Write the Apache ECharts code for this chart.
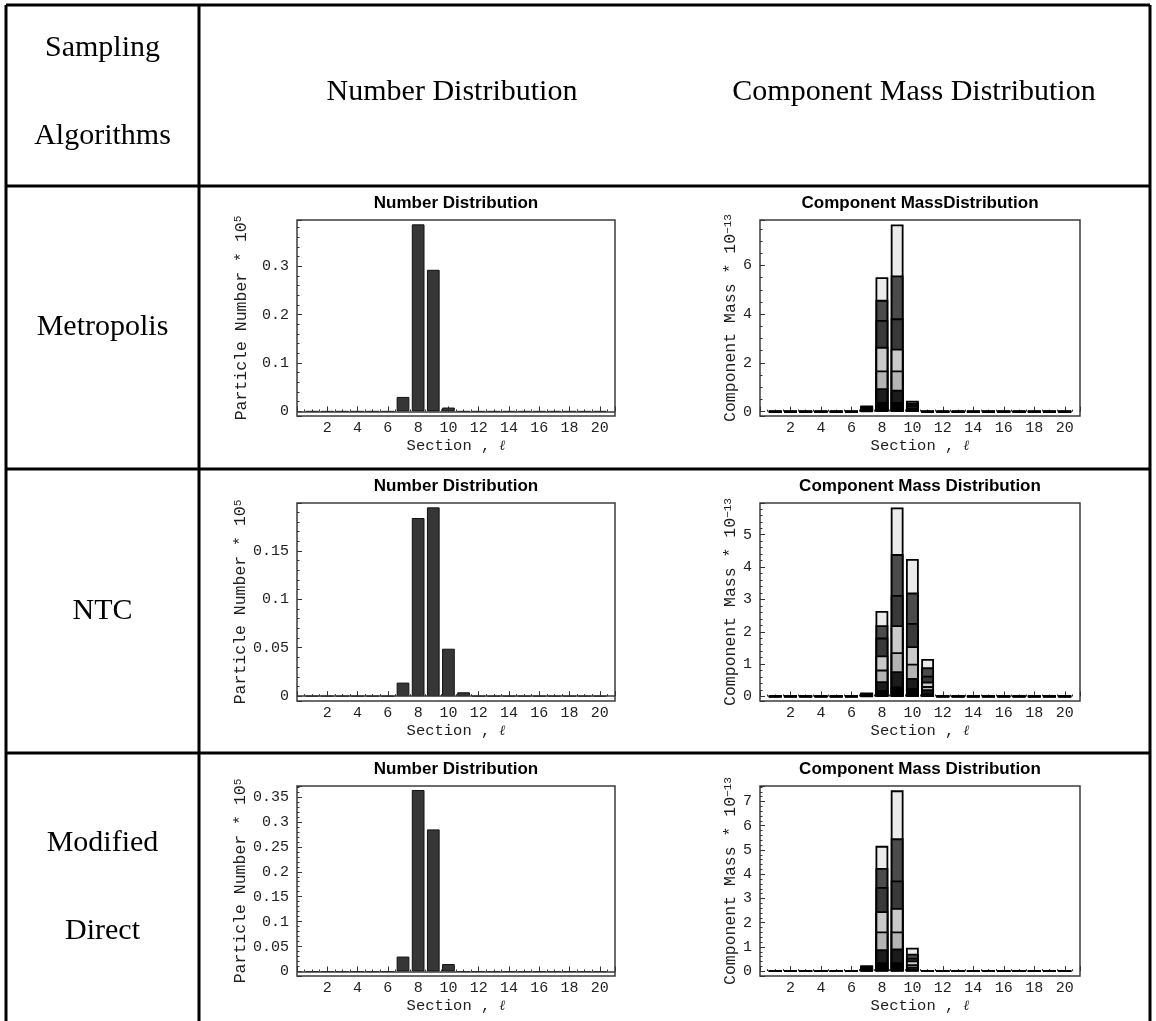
<!DOCTYPE html>
<html>
<head>
<meta charset="utf-8">
<script src="https://cdn.jsdelivr.net/npm/echarts@6/dist/echarts.min.js"></script>
<style>
  html, body { margin: 0; padding: 0; background: #ffffff; }
  #chart { width: 1156px; height: 1021px; }
</style>
</head>
<body>
<div id="chart"></div>
<script>
// Section indices shared by every panel
const sections = [1, 2, 3, 4, 5, 6, 7, 8, 9, 10, 11, 12, 13, 14, 15, 16, 17, 18, 19, 20];

// Particle number (x 10^5) per section
const metropolisNumber = [0, 0, 0, 0, 0, 0, 0.030, 0.387, 0.293, 0.008, 0, 0, 0, 0, 0, 0, 0, 0, 0, 0];
const ntcNumber        = [0, 0, 0, 0, 0, 0, 0.014, 0.184, 0.195, 0.049, 0.004, 0, 0, 0, 0, 0, 0, 0, 0, 0];
const modifiedNumber   = [0, 0, 0, 0, 0, 0, 0.030, 0.364, 0.285, 0.015, 0, 0, 0, 0, 0, 0, 0, 0, 0, 0];

// Component mass (x 10^-13) per section, components listed bottom to top
const metropolisMass = [
  [0, 0, 0, 0, 0, 0, 0.03, 0.39, 0.39, 0.05, 0, 0, 0, 0, 0, 0, 0, 0, 0, 0],
  [0, 0, 0, 0, 0, 0, 0.04, 0.57, 0.51, 0.06, 0, 0, 0, 0, 0, 0, 0, 0, 0, 0],
  [0, 0, 0, 0, 0, 0, 0.04, 0.73, 0.79, 0.07, 0, 0, 0, 0, 0, 0, 0, 0, 0, 0],
  [0, 0, 0, 0, 0, 0, 0.05, 0.97, 0.89, 0.06, 0, 0, 0, 0, 0, 0, 0, 0, 0, 0],
  [0, 0, 0, 0, 0, 0, 0.03, 1.10, 1.25, 0.07, 0, 0, 0, 0, 0, 0, 0, 0, 0, 0],
  [0, 0, 0, 0, 0, 0, 0.03, 0.83, 1.76, 0.06, 0, 0, 0, 0, 0, 0, 0, 0, 0, 0],
  [0, 0, 0, 0, 0, 0, 0.03, 0.93, 2.10, 0.08, 0, 0, 0, 0, 0, 0, 0, 0, 0, 0]
];
const ntcMass = [
  [0, 0, 0, 0, 0, 0, 0.015, 0.20, 0.31, 0.26, 0.10, 0, 0, 0, 0, 0, 0, 0, 0, 0],
  [0, 0, 0, 0, 0, 0, 0.020, 0.27, 0.47, 0.31, 0.12, 0, 0, 0, 0, 0, 0, 0, 0, 0],
  [0, 0, 0, 0, 0, 0, 0.015, 0.36, 0.59, 0.44, 0.10, 0, 0, 0, 0, 0, 0, 0, 0, 0],
  [0, 0, 0, 0, 0, 0, 0.020, 0.44, 0.83, 0.54, 0.14, 0, 0, 0, 0, 0, 0, 0, 0, 0],
  [0, 0, 0, 0, 0, 0, 0.020, 0.55, 0.94, 0.72, 0.18, 0, 0, 0, 0, 0, 0, 0, 0, 0],
  [0, 0, 0, 0, 0, 0, 0.015, 0.38, 1.26, 0.94, 0.26, 0, 0, 0, 0, 0, 0, 0, 0, 0],
  [0, 0, 0, 0, 0, 0, 0.015, 0.44, 1.44, 1.04, 0.26, 0, 0, 0, 0, 0, 0, 0, 0, 0]
];
const modifiedMass = [
  [0, 0, 0, 0, 0, 0, 0.03, 0.37, 0.37, 0.07, 0, 0, 0, 0, 0, 0, 0, 0, 0, 0],
  [0, 0, 0, 0, 0, 0, 0.03, 0.53, 0.56, 0.11, 0, 0, 0, 0, 0, 0, 0, 0, 0, 0],
  [0, 0, 0, 0, 0, 0, 0.03, 0.74, 0.71, 0.10, 0, 0, 0, 0, 0, 0, 0, 0, 0, 0],
  [0, 0, 0, 0, 0, 0, 0.04, 0.83, 0.97, 0.16, 0, 0, 0, 0, 0, 0, 0, 0, 0, 0],
  [0, 0, 0, 0, 0, 0, 0.04, 1.00, 1.13, 0.11, 0, 0, 0, 0, 0, 0, 0, 0, 0, 0],
  [0, 0, 0, 0, 0, 0, 0.04, 0.79, 1.74, 0.17, 0, 0, 0, 0, 0, 0, 0, 0, 0, 0],
  [0, 0, 0, 0, 0, 0, 0.03, 0.91, 1.98, 0.25, 0, 0, 0, 0, 0, 0, 0, 0, 0, 0]
];

// Table text
const headerLeft = ['Sampling', 'Algorithms'];
const headerNumber = 'Number Distribution';
const headerMass = 'Component Mass Distribution';
const algorithmLabels = [['Metropolis'], ['NTC'], ['Modified', 'Direct']];
const numberTitles = ['Number Distribution', 'Number Distribution', 'Number Distribution'];
const massTitles = ['Component MassDistribution', 'Component Mass Distribution', 'Component Mass Distribution'];

// Grey levels of the seven stacked components, bottom to top
const componentColors = ['#000000', '#1b1b1b', '#b4b4b4', '#cacaca', '#393939', '#4b4b4b', '#ebebeb'];

// Panel layout (pixels) and axis ranges for each table row
const panelRows = [
  { top: 220, height: 196, labelY: [327],
    number: metropolisNumber, nRange: [-0.0095, 0.396], nStep: 0.1, nMinor: 5,
    mass: metropolisMass, mRange: [-0.18, 7.87], mStep: 2, mMinor: 4 },
  { top: 503, height: 198, labelY: [611],
    number: ntcNumber, nRange: [-0.005, 0.1995], nStep: 0.05, nMinor: 5,
    mass: ntcMass, mRange: [-0.14, 5.98], mStep: 1, mMinor: 5 },
  { top: 786, height: 190, labelY: [843, 931],
    number: modifiedNumber, nRange: [-0.009, 0.372], nStep: 0.05, nMinor: 5,
    mass: modifiedMass, mRange: [-0.2, 7.64], mStep: 1, mMinor: 5 }
];
const numberLeft = 297, numberWidth = 318;
const massLeft = 760, massWidth = 320;
const xMin = 0, xMax = 21;

const monoFont = "'Liberation Mono', 'Courier New', monospace";
const serifFont = "'Liberation Serif', 'Times New Roman', serif";
const sansFont = "'Liberation Sans', Arial, sans-serif";
const inkColor = '#1e1e1e';

const grids = [], xAxes = [], yAxes = [], series = [], graphics = [];

function multipleLabel(step) {
  return function (v) {
    const k = v / step;
    if (v < 0 || Math.abs(k - Math.round(k)) > 1e-6) return '';
    return String(Number(v.toFixed(4)));
  };
}

function addPanel(p) {
  const gi = grids.length;
  grids.push({
    left: p.left, top: p.top, width: p.width, height: p.height,
    show: true, borderColor: '#3c3c3c', borderWidth: 1.5, backgroundColor: 'rgba(0,0,0,0)'
  });
  xAxes.push({
    gridIndex: gi, type: 'value', min: xMin, max: xMax, interval: 2,
    axisLine: { show: false }, splitLine: { show: false },
    axisTick: { show: true, inside: true, length: 5, lineStyle: { color: '#333', width: 1 } },
    minorTick: { show: true, splitNumber: 4, length: 2, lineStyle: { color: '#333', width: 1 } },
    axisLabel: {
      margin: 5, fontFamily: monoFont, fontSize: 15, color: inkColor,
      formatter: function (v) { return (v >= 2 && v <= 20 && v % 2 === 0) ? String(v) : ''; }
    },
    name: 'Section , {l|ℓ}', nameLocation: 'middle', nameGap: 22,
    nameTextStyle: {
      fontFamily: monoFont, fontSize: 15.5, color: inkColor,
      rich: { l: { fontFamily: "'DejaVu Serif', serif", fontStyle: 'italic', fontSize: 14, color: inkColor } }
    }
  });
  yAxes.push({
    gridIndex: gi, type: 'value', min: p.range[0], max: p.range[1],
    minInterval: p.step, maxInterval: p.step, splitNumber: 4,
    axisLine: { show: false }, splitLine: { show: false },
    axisTick: { show: true, inside: true, length: 5, lineStyle: { color: '#333', width: 1 } },
    minorTick: { show: true, splitNumber: p.minor, length: 2.5, lineStyle: { color: '#333', width: 1 } },
    axisLabel: { margin: 8, fontFamily: monoFont, fontSize: 15, color: inkColor, formatter: multipleLabel(p.step) },
    name: p.yName, nameLocation: 'middle', nameGap: p.nameGap, nameRotate: 90,
    nameTextStyle: {
      fontFamily: monoFont, fontSize: 16.5, color: inkColor,
      rich: { s: { fontFamily: monoFont, fontSize: 11, color: inkColor, verticalAlign: 'top' } }
    }
  });
  graphics.push({
    type: 'text', x: p.left + p.width / 2, y: p.top - 17,
    style: {
      text: p.title, font: 'bold 17px ' + sansFont, fill: '#000',
      textAlign: 'center', textVerticalAlign: 'middle', align: 'center', verticalAlign: 'middle'
    }
  });
  return gi;
}

panelRows.forEach(function (row, r) {
  // Number distribution panel
  const ng = addPanel({
    left: numberLeft, width: numberWidth, top: row.top, height: row.height,
    range: row.nRange, step: row.nStep, minor: row.nMinor,
    yName: 'Particle Number * 10{s|5}', nameGap: 47, title: numberTitles[r]
  });
  const nbw = 0.84 * numberWidth / (xMax - xMin);
  series.push({
    type: 'bar', xAxisIndex: ng, yAxisIndex: ng, barWidth: nbw,
    data: sections.map(function (s, k) { return [s, row.number[k]]; }),
    itemStyle: { color: '#363636', borderColor: '#111', borderWidth: 1 },
    markLine: {
      silent: true, symbol: ['none', 'none'], label: { show: false },
      lineStyle: { color: '#3a3a3a', width: 1.5, type: 'solid' },
      data: [{ yAxis: 0 }]
    }
  });

  // Component mass distribution panel: each component is drawn as a bar
  // reaching its running total, tallest first, so lower components overlay it
  const mg = addPanel({
    left: massLeft, width: massWidth, top: row.top, height: row.height,
    range: row.mRange, step: row.mStep, minor: row.mMinor,
    yName: 'Component Mass * 10{s|−13}', nameGap: 19, title: massTitles[r]
  });
  const mbw = 0.84 * massWidth / (xMax - xMin);
  const runningTotals = [];
  row.mass.forEach(function (comp, c) {
    runningTotals.push(comp.map(function (v, k) {
      const below = c > 0 ? runningTotals[c - 1][k] : 0;
      return Math.round((below + v) * 1e6) / 1e6;
    }));
  });
  for (let c = runningTotals.length - 1; c >= 0; c--) {
    series.push({
      type: 'bar', xAxisIndex: mg, yAxisIndex: mg, barWidth: mbw, barGap: '-100%',
      data: sections.map(function (s, k) { return [s, runningTotals[c][k]]; }),
      itemStyle: { color: componentColors[c], borderColor: '#000', borderWidth: 1.8 }
    });
  }
});

// Table rules
const tableLeft = 6, tableDivider = 199, tableRight = 1150, tableTop = 5, tableBottom = 1021;
const rowRules = [186, 469, 753];
function rule(x1, y1, x2, y2) {
  graphics.push({ type: 'line', shape: { x1: x1, y1: y1, x2: x2, y2: y2 }, style: { stroke: '#000', lineWidth: 3 } });
}
rule(tableLeft, tableTop, tableRight, tableTop);
rule(tableLeft, tableTop, tableLeft, tableBottom);
rule(tableDivider, tableTop, tableDivider, tableBottom);
rule(tableRight, tableTop, tableRight, tableBottom);
rowRules.forEach(function (y) { rule(tableLeft, y, tableRight, y); });

// Table cell text
function cellText(text, x, y) {
  graphics.push({
    type: 'text', x: x, y: y,
    style: {
      text: text, font: '30px ' + serifFont, fill: '#000',
      textAlign: 'center', textVerticalAlign: 'middle', align: 'center', verticalAlign: 'middle'
    }
  });
}
const leftCenter = (tableLeft + tableDivider) / 2;
cellText(headerLeft[0], leftCenter, 48);
cellText(headerLeft[1], leftCenter, 136);
cellText(headerNumber, 452, 92);
cellText(headerMass, 914, 92);
panelRows.forEach(function (row, r) {
  algorithmLabels[r].forEach(function (t, i) { cellText(t, leftCenter, row.labelY[i]); });
});

const chart = echarts.init(document.getElementById('chart'), null, { renderer: 'canvas' });
chart.setOption({
  animation: false,
  backgroundColor: '#ffffff',
  grid: grids,
  xAxis: xAxes,
  yAxis: yAxes,
  series: series,
  graphic: { elements: graphics }
});
</script>
</body>
</html>
